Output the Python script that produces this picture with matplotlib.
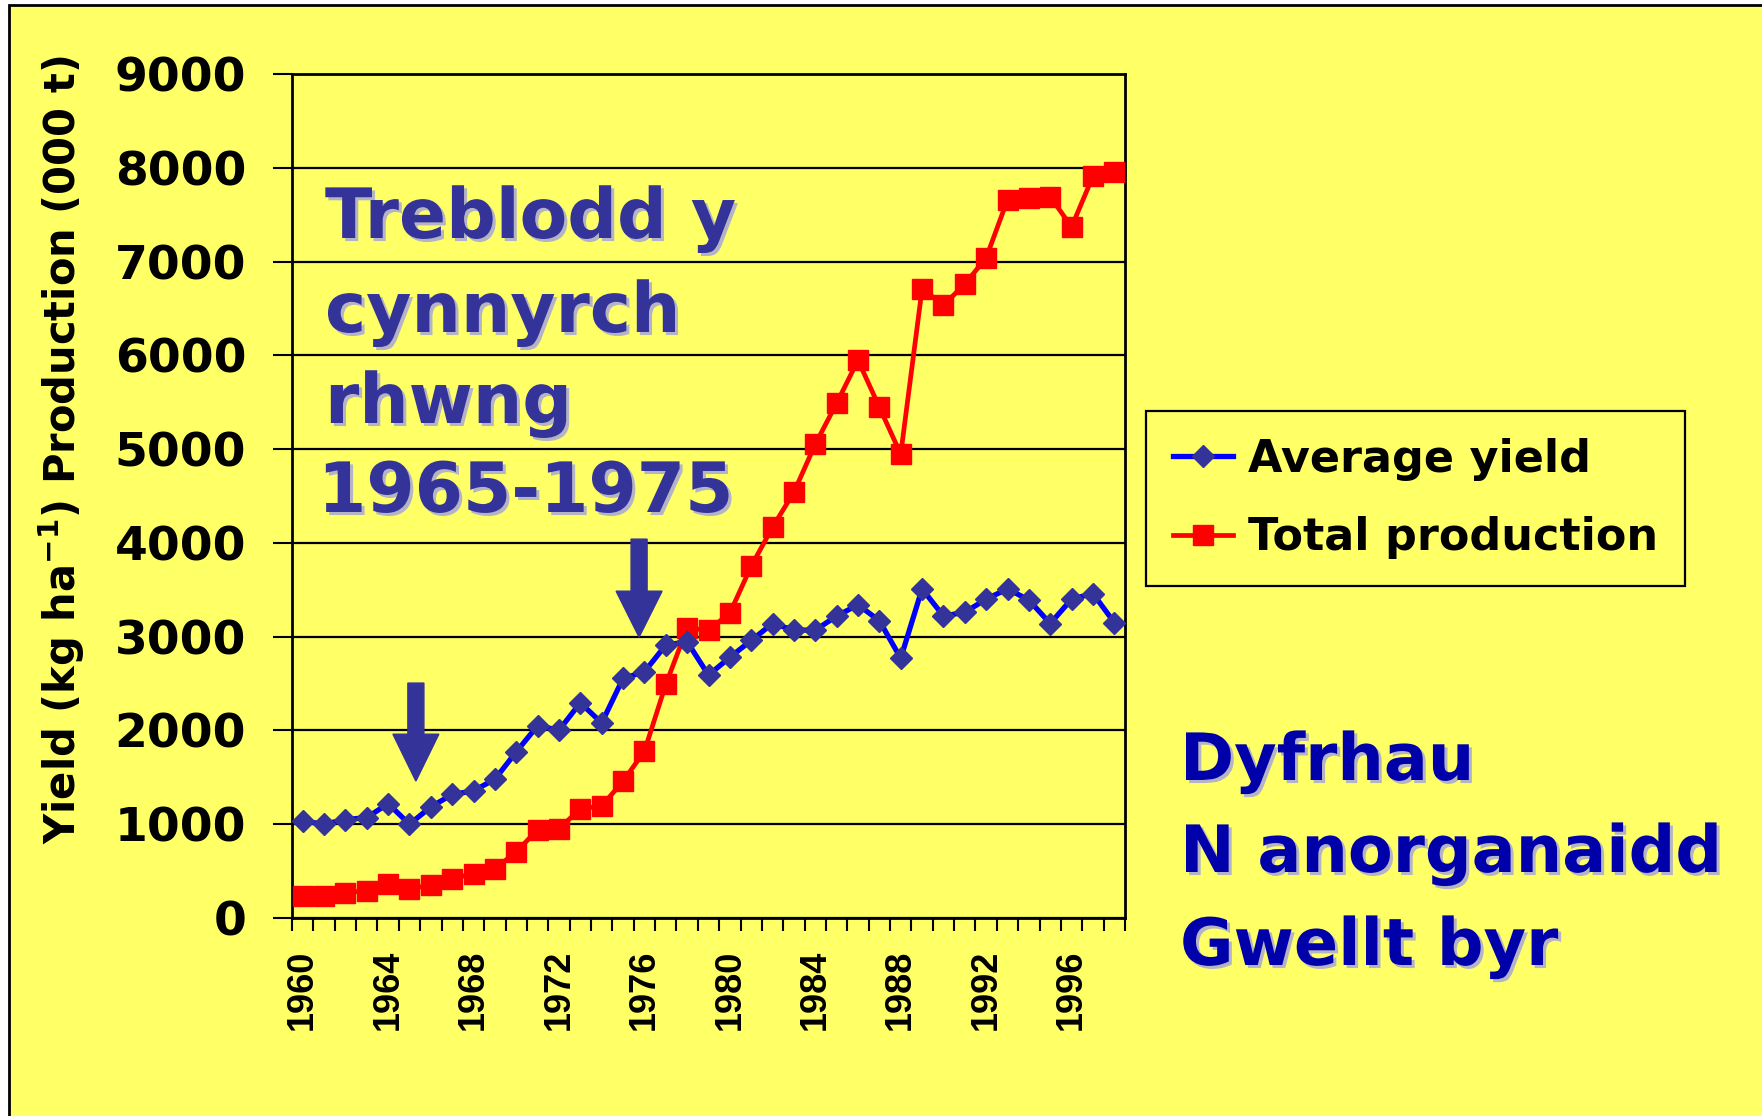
import matplotlib
matplotlib.use("Agg")
import matplotlib.pyplot as plt
import matplotlib.patheffects as pe
from matplotlib.lines import Line2D
from matplotlib.patches import Rectangle, FancyArrow

# ---------------- data ----------------
years = list(range(1960, 1999))
average_yield = [1035, 1000, 1050, 1070, 1220, 1000, 1185, 1317, 1356, 1480,
                 1772, 2050, 2003, 2295, 2080, 2555, 2626, 2910, 2946, 2590,
                 2780, 2960, 3140, 3070, 3070, 3220, 3340, 3170, 2770, 3510,
                 3220, 3260, 3400, 3510, 3390, 3140, 3400, 3460, 3150]
total_production = [235, 235, 271, 290, 367, 314, 349, 420, 474, 527,
                    704, 943, 954, 1163, 1195, 1459, 1779, 2491, 3091, 3070,
                    3251, 3752, 4168, 4541, 5053, 5490, 5948, 5447, 4946, 6710,
                    6535, 6760, 7040, 7660, 7680, 7690, 7370, 7910, 7950]
year_labels = [str(y) for y in years[::4]]
yticks = list(range(0, 9001, 1000))

series_names = ["Average yield", "Total production"]
note1 = ["Treblodd y", "cynnyrch", "rhwng", "1965-1975"]
note2 = ["Dyfrhau", "N anorganaidd", "Gwellt byr"]
ylabel = r"Yield (kg ha$^{\mathbf{-1}}$) Production (000 t)"

# ---------------- figure ----------------
W, H = 1762, 1116
fig = plt.figure(figsize=(W / 100, H / 100), dpi=100, facecolor="white")

# yellow slide panel with black left/top border
bg = Rectangle((9 / W, -0.1), 1.2, 1.1 - 5 / H, transform=fig.transFigure,
               facecolor="#FFFF66", edgecolor="black", linewidth=2, zorder=-10)
fig.patches.append(bg)

ax = fig.add_axes([292 / W, 1 - 918 / H, 833 / W, 844 / H])
ax.set_zorder(1)
ax.set_facecolor("#FFFF66")

x = list(range(len(years)))
ax.plot(x, total_production, color="#FF0000", lw=3.4, marker="s", ms=15,
        mfc="#FF0000", mec="#FF0000", zorder=3, label=series_names[1])
ax.plot(x, average_yield, color="#0000FF", lw=3.8, marker="D", ms=11.5,
        mfc="#333399", mec="#333399", zorder=4, label=series_names[0])

ax.set_xlim(-0.5, len(years) - 0.5)
ax.set_ylim(0, 9000)

# category boundary ticks
ax.set_xticks([i - 0.5 for i in range(len(years) + 1)])
ax.set_xticklabels([])
ax.tick_params(axis="x", which="major", length=9, width=1.5, direction="out")
# labels at category centres
ax.set_xticks(x[::4], year_labels, minor=True)
ax.tick_params(axis="x", which="minor", length=0, pad=23)
for lbl in ax.get_xticklabels(minor=True):
    lbl.set_rotation(90)
    lbl.set_fontfamily("Liberation Sans")
    lbl.set_fontweight("bold")
    lbl.set_fontsize(26)
    lbl.set_va("top")

ax.set_yticks(yticks)
ax.set_yticklabels([str(v) for v in yticks], fontsize=34, fontweight="bold",
                   fontfamily="DejaVu Sans")
ax.tick_params(axis="y", length=14, width=1.5, pad=19)
ax.grid(axis="y", color="black", lw=1.6, zorder=1)
ax.set_axisbelow(True)
for s in ax.spines.values():
    s.set_linewidth(2)
    s.set_color("black")

fig.text(62 / W, 1 - 450 / H, ylabel, rotation=90, ha="center", va="center",
         fontsize=30, fontweight="bold", color="black")

# arrows (annotation shapes)
ax.add_patch(FancyArrow(5.3, 2505, 0, -(2505 - 1460),
                        width=0.75, head_width=2.15, head_length=500,
                        length_includes_head=True, color="#333399", zorder=5))
ax.add_patch(FancyArrow(15.75, 4040, 0, -(4040 - 2995),
                        width=0.75, head_width=2.15, head_length=490,
                        length_includes_head=True, color="#333399", zorder=5))

# legend
handles = [Line2D([], [], color="#0000FF", lw=3.8, marker="D", ms=11.5,
                  mfc="#333399", mec="#333399"),
           Line2D([], [], color="#FF0000", lw=3.4, marker="s", ms=15,
                  mfc="#FF0000", mec="#FF0000")]
leg = fig.legend(handles, series_names, loc="upper left",
                 bbox_to_anchor=(1146 / W, 1 - 411 / H),
                 bbox_transform=fig.transFigure, borderaxespad=0,
                 prop={"family": "DejaVu Sans", "weight": "bold", "size": 32},
                 frameon=True, fancybox=False, edgecolor="black",
                 facecolor="#FFFF66", framealpha=1, handlelength=1.35,
                 handletextpad=0.35, labelspacing=0.8, borderpad=0.6)
leg.get_frame().set_linewidth(1.6)

shadow = [pe.SimplePatchShadow(offset=(2.2, -2.2), shadow_rgbFace="#b4b4c4",
                               alpha=1.0), pe.Normal()]

base1 = [238, 332, 423, 512]
left1 = [325, 325, 325, 318]
for t, b, l in zip(note1, base1, left1):
    fig.text(l / W, 1 - b / H, t, ha="left", va="baseline", fontsize=50,
             fontweight="bold", color="#333399", path_effects=shadow)

base2 = [780, 872, 965]
for t, b in zip(note2, base2):
    fig.text(1180 / W, 1 - b / H, t, ha="left", va="baseline", fontsize=47,
             fontweight="bold", color="#0000AA", path_effects=shadow)

fig.savefig("out.png", dpi=100, facecolor=fig.get_facecolor())
